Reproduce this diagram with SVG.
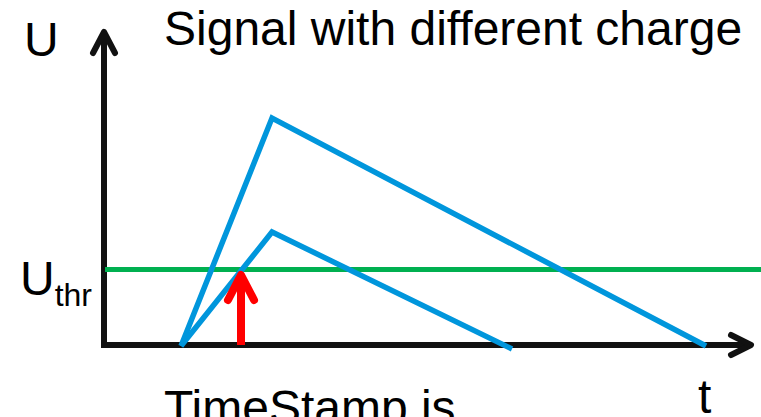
<svg xmlns="http://www.w3.org/2000/svg" width="761" height="417" viewBox="0 0 761 417">
<style>
text{font-family:"Liberation Sans",Arial,sans-serif;fill:#000}
.ax{stroke:#111;stroke-width:6;fill:none}
.sig{stroke:#0096DC;stroke-width:5.5;fill:none;stroke-linejoin:miter}
</style>
<rect width="761" height="417" fill="#fff"/>
<g id="axes">
<line class="ax" x1="104" y1="346" x2="104" y2="32"/>
<polyline class="ax" points="93,53 104,32 115,53" stroke-linecap="round" stroke-linejoin="round"/>
<line class="ax" x1="101" y1="345" x2="750" y2="345"/>
<polyline class="ax" points="731,335 751,345 731,355" stroke-linecap="round" stroke-linejoin="round"/>
</g>
<g id="threshold">
<line x1="105" y1="269.5" x2="761" y2="269.5" stroke="#00B050" stroke-width="5"/>
</g>
<g id="signals">
<polyline class="sig" points="181,346 272,118 706,346"/>
<polyline class="sig" points="181,346 272,232 512,349"/>
</g>
<g id="timestamp-arrow">
<line x1="241" y1="345" x2="241" y2="276" stroke="#FF0000" stroke-width="8"/>
<polyline points="228,300 241,275 254,300" fill="none" stroke="#FF0000" stroke-width="8" stroke-linecap="round" stroke-linejoin="round"/>
</g>
<g id="labels">
<text x="24" y="56" font-size="48">U</text>
<text x="164" y="45" font-size="48">Signal with different charge</text>
<text x="20" y="295" font-size="48">U<tspan font-size="32" dy="11">thr</tspan></text>
<text x="698" y="413" font-size="48">t</text>
<text x="164" y="424" font-size="48">TimeStamp is</text>
</g>
</svg>
